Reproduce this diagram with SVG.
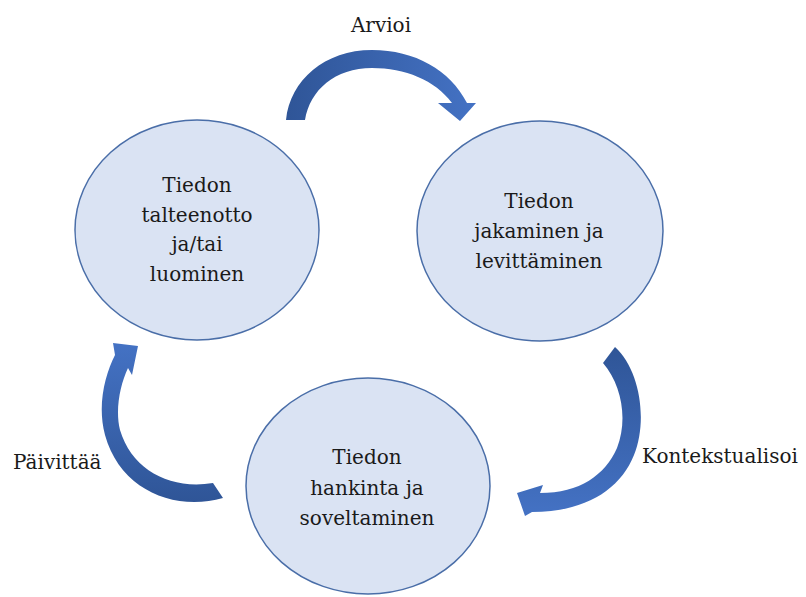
<svg xmlns="http://www.w3.org/2000/svg" width="806" height="597" viewBox="0 0 806 597">
<defs>
<style>
.node ellipse{fill:#dae3f3;stroke:#4a6ea8;stroke-width:1.5}
.lbl{font-family:"DejaVu Serif","Liberation Serif",serif;font-size:20px;fill:#1a1a1a;text-anchor:middle}
.edge-lbl{font-family:"DejaVu Serif","Liberation Serif",serif;font-size:20px;fill:#1a1a1a}
</style>
<linearGradient id="gTop" x1="0" y1="0" x2="1" y2="0">
<stop offset="0" stop-color="#2f5597"/><stop offset="1" stop-color="#4472c4"/>
</linearGradient>
<linearGradient id="gRight" x1="0" y1="0" x2="0" y2="1">
<stop offset="0" stop-color="#2f5597"/><stop offset="1" stop-color="#4472c4"/>
</linearGradient>
<linearGradient id="gLeft" x1="0" y1="1" x2="0" y2="0">
<stop offset="0" stop-color="#2f5597"/><stop offset="1" stop-color="#4472c4"/>
</linearGradient>
</defs>
<rect width="806" height="597" fill="#ffffff"/>
<g id="connectors">
<path id="arrow-arvioi" fill="url(#gTop)" d="M286,120 C290,80 325,50 372,50 C415,50 450,70 467,103 L476,103 L460,121 L438,103 L452,103 C435,80 405,68 372,68 C335,68 310,90 305,120 Z"/>
<path id="arrow-kontekstualisoi" fill="url(#gRight)" d="M615,347 C640,370 648,420 634,455 C620,490 585,512 532,512 L525,516 L517,493 L543,485 L540,493 C580,493 605,475 617,448 C628,420 622,385 603,363 Z"/>
<path id="arrow-paivittaa" fill="url(#gLeft)" d="M223,498 C175,512 120,490 105,435 C97,405 105,375 115,355 L113,343 L138,346 L132,375 L128,368 C120,385 115,410 120,430 C132,470 170,490 213,483 Z"/>
<text class="edge-lbl" x="381" y="32" text-anchor="middle">Arvioi</text>
<text class="edge-lbl" x="642" y="463">Kontekstualisoi</text>
<text class="edge-lbl" x="13" y="469">Päivittää</text>
</g>
<g id="node-talteenotto" class="node">
<ellipse cx="197" cy="230" rx="122" ry="110"/>
<text class="lbl" x="197" y="192">Tiedon</text>
<text class="lbl" x="197" y="222">talteenotto</text>
<text class="lbl" x="197" y="251">ja/tai</text>
<text class="lbl" x="197" y="281">luominen</text>
</g>
<g id="node-jakaminen" class="node">
<ellipse cx="540" cy="231" rx="123" ry="110"/>
<text class="lbl" x="539" y="208">Tiedon</text>
<text class="lbl" x="539" y="238">jakaminen ja</text>
<text class="lbl" x="539" y="268">levittäminen</text>
</g>
<g id="node-hankinta" class="node">
<ellipse cx="368" cy="486" rx="122" ry="108"/>
<text class="lbl" x="367" y="464">Tiedon</text>
<text class="lbl" x="367" y="495">hankinta ja</text>
<text class="lbl" x="367" y="525">soveltaminen</text>
</g>
</svg>
